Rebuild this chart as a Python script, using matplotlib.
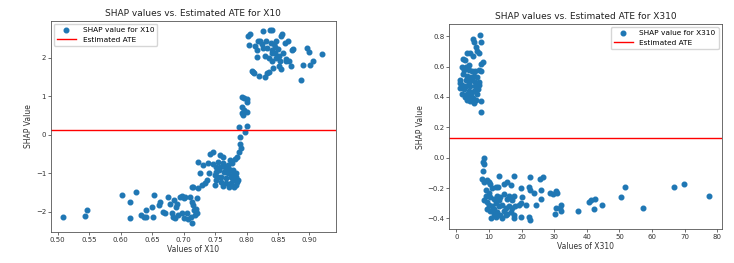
import matplotlib
matplotlib.use("Agg")
import matplotlib.pyplot as plt

# SHAP values for X10
x10_vals = [0.509, 0.543, 0.546, 0.602, 0.615, 0.615, 0.625, 0.633, 0.637, 0.640,
            0.641, 0.650, 0.651, 0.653, 0.661, 0.662, 0.668, 0.670, 0.676, 0.678,
            0.681, 0.683, 0.684, 0.686, 0.688, 0.690, 0.691, 0.694, 0.697, 0.698,
            0.700, 0.701, 0.703, 0.705, 0.707, 0.710, 0.711, 0.713, 0.714, 0.715,
            0.717, 0.718, 0.720, 0.721, 0.722, 0.715, 0.723,
            0.723, 0.726, 0.729, 0.731, 0.734, 0.737, 0.739, 0.741, 0.742, 0.747,
            0.747, 0.750, 0.751, 0.752, 0.755, 0.756, 0.758, 0.759, 0.760, 0.762,
            0.763, 0.764, 0.766, 0.767, 0.768, 0.770, 0.771, 0.772, 0.774, 0.775,
            0.776, 0.778, 0.779, 0.780, 0.781, 0.783, 0.784, 0.785, 0.762, 0.758,
            0.752, 0.755, 0.750, 0.768, 0.772, 0.777, 0.779, 0.784, 0.787, 0.713,
            0.785, 0.788, 0.789, 0.791, 0.790, 0.788, 0.797, 0.800, 0.792, 0.794,
            0.793, 0.796, 0.801, 0.792, 0.796, 0.800, 0.801,
            0.803, 0.805, 0.804, 0.808, 0.811, 0.812, 0.814, 0.816, 0.817, 0.818,
            0.821, 0.819, 0.824, 0.826, 0.829, 0.831, 0.832, 0.833, 0.835, 0.836,
            0.837, 0.839, 0.840, 0.840, 0.841, 0.842, 0.843, 0.845, 0.846, 0.847,
            0.850, 0.852, 0.853, 0.854, 0.855, 0.857, 0.858, 0.861, 0.862, 0.863,
            0.866, 0.868, 0.870, 0.873, 0.874, 0.886, 0.890, 0.896, 0.899, 0.901,
            0.906, 0.920, 0.826, 0.829, 0.841, 0.847, 0.851]
shap10 = [-2.13, -2.11, -1.96, -1.57, -1.76, -2.16, -1.48, -2.09, -2.13, -1.96,
          -2.13, -1.87, -2.13, -1.57, -1.83, -1.76, -2.02, -2.04, -1.63, -1.80,
          -2.04, -2.13, -1.70, -2.17, -1.87, -1.80, -2.09, -1.61, -1.59, -2.04,
          -1.65, -2.17, -1.61, -2.04, -2.19, -1.61, -2.13, -2.29, -1.74, -1.83,
          -1.96, -2.09, -1.92, -1.65, -2.04, -1.35, -1.39,
          -0.70, -1.00, -1.31, -0.79, -1.26, -1.18, -0.73, -1.00, -0.50, -0.44,
          -0.76, -1.05, -1.18, -0.83, -0.70, -0.92, -0.53, -1.09, -1.22, -1.33,
          -0.57, -0.96, -0.83, -1.13, -1.25, -1.00, -0.79, -1.35, -0.66, -1.09,
          -1.25, -0.92, -1.18, -1.35, -0.62, -1.09, -1.31, -1.22, -0.74, -0.83,
          -0.96, -1.09, -1.31, -0.92, -0.88, -0.74, -1.00, -1.00, -1.18, -1.35,
          -0.57, -0.44, -0.25, -0.35, -0.05, 0.20, 0.08, 0.23, 0.56, 0.52,
          0.72, 0.65, 0.58, 0.99, 0.95, 0.92, 0.85,
          2.56, 2.62, 2.34, 1.67, 1.64, 1.60, 2.31, 2.21, 2.02, 2.43,
          2.43, 1.53, 2.36, 2.71, 1.51, 2.45, 2.25, 1.60, 2.01, 1.64,
          2.73, 2.40, 2.21, 1.92, 2.73, 1.75, 2.36, 2.12, 2.29, 2.43,
          2.23, 2.04, 1.92, 2.56, 1.70, 2.62, 2.12, 2.40, 1.92, 1.96,
          2.43, 1.92, 1.79, 2.21, 2.23, 1.43, 1.82, 2.25, 2.16, 1.82,
          1.92, 2.10, 2.27, 2.05, 2.12, 2.00, 1.80]
ate10 = 0.12

# SHAP values for X310
x310_vals = [7.2, 5.1, 5.5, 7.4, 6.1, 6.4, 3.3, 4.3, 5.1, 6.9,
             2.0, 2.5, 8.2, 7.4, 1.7, 2.8, 3.8, 2.3, 3.8, 4.8,
             5.8, 6.9, 7.6, 2.0, 3.3, 4.3, 5.3, 6.4, 1.2, 2.8,
             3.8, 4.8, 5.8, 6.9, 1.7, 2.8, 4.3, 5.8, 6.9, 1.2,
             2.3, 3.8, 5.3, 6.6, 1.7, 3.3, 4.5, 6.4, 2.5, 3.8,
             5.1, 6.1, 4.3, 5.3, 7.4, 7.6, 3.3, 1.2,
             8.6, 8.2, 8.6, 8.2, 7.9, 8.6, 9.4, 9.9, 10.4, 13.2,
             17.6, 15.6, 16.6, 14.5, 12.0, 11.0, 12.8, 9.2, 9.9, 9.0,
             8.6, 9.4, 10.4, 11.5, 12.5, 13.5, 14.5, 15.4, 16.1, 17.1,
             17.6, 9.9, 11.0, 12.0, 13.0, 14.0, 15.1, 16.1, 17.1, 18.1,
             10.4, 11.5, 12.5, 13.5, 14.5, 15.6, 16.6, 17.6, 10.6, 14.0,
             17.6, 11.5, 13.0, 9.4, 12.0, 15.1, 19.7, 20.2, 19.9, 19.2,
             19.9, 22.2, 22.7, 22.5, 21.5, 22.2, 22.7, 23.8, 24.3, 25.6,
             26.6, 26.0, 25.8, 28.7, 29.7, 30.4, 30.7, 30.4, 30.1, 31.8,
             32.2, 32.0,
             37.3, 40.7, 41.2, 42.5, 42.2, 44.6, 50.6, 51.7, 57.2, 66.6,
             69.7, 77.4]
shap310 = [0.81, 0.78, 0.76, 0.76, 0.73, 0.70, 0.69, 0.69, 0.67, 0.69,
           0.65, 0.64, 0.63, 0.62, 0.60, 0.60, 0.61, 0.58, 0.58, 0.57,
           0.57, 0.58, 0.57, 0.55, 0.54, 0.53, 0.54, 0.53, 0.51, 0.51,
           0.50, 0.51, 0.50, 0.50, 0.48, 0.47, 0.47, 0.47, 0.48, 0.46,
           0.45, 0.44, 0.44, 0.45, 0.42, 0.42, 0.42, 0.42, 0.40, 0.39,
           0.39, 0.38, 0.37, 0.36, 0.37, 0.30, 0.38, 0.49,
           0.00, -0.03, -0.04, -0.09, -0.14, -0.16, -0.15, -0.16, -0.17, -0.12,
           -0.12, -0.16, -0.18, -0.17, -0.19, -0.20, -0.19, -0.21, -0.23, -0.25,
           -0.28, -0.29, -0.26, -0.27, -0.25, -0.26, -0.24, -0.27, -0.25, -0.28,
           -0.25, -0.31, -0.32, -0.30, -0.32, -0.31, -0.33, -0.32, -0.33, -0.32,
           -0.35, -0.37, -0.36, -0.38, -0.35, -0.37, -0.36, -0.38, -0.40, -0.40,
           -0.40, -0.34, -0.28, -0.34, -0.39, -0.38, -0.20, -0.26, -0.30, -0.31,
           -0.39, -0.19, -0.13, -0.21, -0.31, -0.39, -0.41, -0.23, -0.31, -0.14,
           -0.13, -0.21, -0.27, -0.23, -0.24, -0.22, -0.23, -0.33, -0.37, -0.33,
           -0.31, -0.35,
           -0.35, -0.29, -0.28, -0.27, -0.34, -0.31, -0.26, -0.19, -0.33, -0.19,
           -0.17, -0.25]
ate310 = 0.128

plt.rcParams['font.family'] = 'DejaVu Sans'
fig = plt.figure(figsize=(7.34, 2.63), dpi=100)
ax1 = fig.add_axes([0.0695, 0.118, 0.388, 0.802])
ax2 = fig.add_axes([0.612, 0.129, 0.371, 0.779])


def draw(ax, xs, ys, ate, name, loc, xlim, ylim, xticks, yticks):
    ax.scatter(xs, ys, s=11, color='#1f77b4', label='SHAP value for ' + name)
    ax.axhline(ate, color='red', lw=1.0, label='Estimated ATE')
    ax.set_xlim(*xlim)
    ax.set_ylim(*ylim)
    ax.set_xticks(xticks)
    ax.set_yticks(yticks)
    ax.tick_params(labelsize=5, length=2, width=0.5, pad=1.5, colors='#333333')
    for sp in ax.spines.values():
        sp.set_linewidth(0.6)
        sp.set_color('#555555')
    ax.set_title('SHAP values vs. Estimated ATE for ' + name, fontsize=6.5, pad=3.5, color='#222222')
    ax.set_xlabel('Values of ' + name, fontsize=5.5, labelpad=1.5, color='#333333')
    ax.set_ylabel('SHAP Value', fontsize=5.5, labelpad=2, color='#333333')
    ax.legend(loc=loc, fontsize=5.3, handlelength=2.6, handletextpad=0.9,
              borderaxespad=0.4, framealpha=0.8, edgecolor='#cccccc', fancybox=True)


draw(ax1, x10_vals, shap10, ate10, 'X10', 'upper left',
     (0.4894, 0.9418), (-2.53, 2.96),
     [0.50, 0.55, 0.60, 0.65, 0.70, 0.75, 0.80, 0.85, 0.90], [-2, -1, 0, 1, 2])
draw(ax2, x310_vals, shap310, ate310, 'X310', 'upper right',
     (-2.2, 81.3), (-0.47, 0.879),
     [0, 10, 20, 30, 40, 50, 60, 70, 80], [-0.4, -0.2, 0.0, 0.2, 0.4, 0.6, 0.8])
ax1.set_xticklabels(['0.50', '0.55', '0.60', '0.65', '0.70', '0.75', '0.80', '0.85', '0.90'])

fig.savefig('out.png', dpi=100)
